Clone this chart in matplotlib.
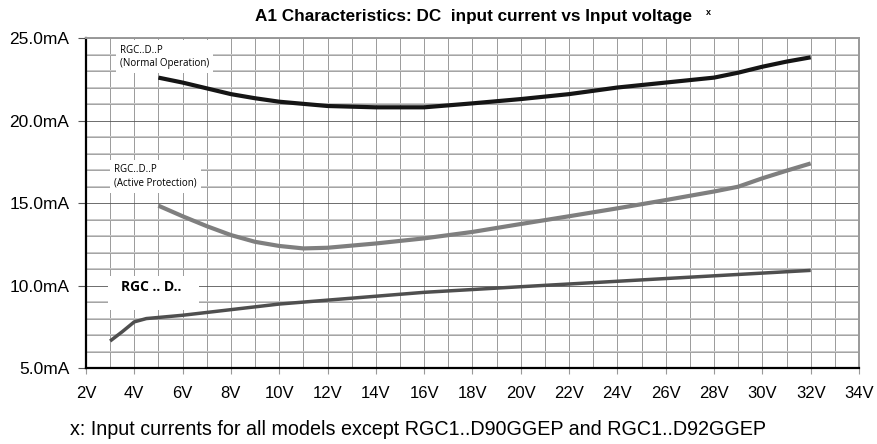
import matplotlib
matplotlib.use('Agg')
import matplotlib.pyplot as plt
from matplotlib.patches import Rectangle

# Werte
v_normal = [5, 6, 7, 8, 9, 10, 12, 14, 16, 18, 20, 22, 24, 26, 28, 29, 30, 31, 32]
i_normal = [22.6, 22.3, 21.95, 21.6, 21.35, 21.14, 20.88, 20.8, 20.8, 21.04, 21.3, 21.6, 22.0, 22.3, 22.6, 22.9, 23.26, 23.57, 23.83]

v_active = [5, 6, 7, 8, 9, 10, 11, 12, 14, 16, 18, 20, 22, 24, 26, 28, 29, 30, 31, 32]
i_active = [14.84, 14.2, 13.6, 13.06, 12.65, 12.4, 12.25, 12.29, 12.55, 12.86, 13.25, 13.73, 14.2, 14.68, 15.18, 15.7, 15.99, 16.5, 16.96, 17.4]

v_std = [3, 3.5, 4, 4.5, 6, 10, 16, 20, 32]
i_std = [6.64, 7.2, 7.8, 8.0, 8.2, 8.88, 9.59, 9.93, 10.92]

x_ticks = list(range(2, 35, 2))
x_labels = ['%dV' % v for v in x_ticks]
y_ticks = [5, 10, 15, 20, 25]
y_labels = ['%.1fmA' % v for v in y_ticks]

plt.rcParams['font.family'] = ['Liberation Sans', 'DejaVu Sans']

fig = plt.figure(figsize=(8.77, 4.44), dpi=100)
ax = fig.add_axes([0.098, 0.171, 0.8815, 0.7434])

# Gitter
for v in range(2, 35):
    ax.axvline(v, color='#8a8a8a', lw=0.6, zorder=0)
for i in range(5, 26):
    if i % 5 == 0:
        ax.axhline(i, color='#555555', lw=0.6, zorder=0)
    else:
        ax.axhline(i, color='#c8c8c8', lw=1.4, zorder=0)
        ax.axhline(i, color='#8a8a8a', lw=0.4, zorder=0)

ax.plot(v_normal, i_normal, color='#151515', lw=3.0, solid_capstyle='butt', zorder=3)
ax.plot(v_active, i_active, color='#7f7f7f', lw=3.0, solid_capstyle='butt', zorder=3)
ax.plot(v_std, i_std, color='#4f4f4f', lw=2.5, solid_capstyle='butt', zorder=3)

ax.set_xlim(2, 34)
ax.set_ylim(5, 25)
ax.set_xticks(x_ticks)
ax.set_xticklabels(x_labels, fontsize=12)
ax.set_yticks(y_ticks)
ax.set_yticklabels(y_labels, fontsize=12.5)
ax.tick_params(axis='x', length=4, color='#999999', pad=9)
ax.tick_params(axis='y', length=6, color='#555555', pad=6)

for s in ['left', 'bottom']:
    ax.spines[s].set_color('black')
    ax.spines[s].set_linewidth(1.6)
for s in ['top', 'right']:
    ax.spines[s].set_color('#999999')
    ax.spines[s].set_linewidth(1.4)

# Beschriftungen
box = dict(facecolor='white', edgecolor='none', pad=3)
ax.text(3.4, 24.6, 'RGC..D..P\n(Normal Operation)', fontsize=7, family='Open Sans',
        va='top', ha='left', bbox=box, zorder=4, linespacing=1.3)
ax.text(3.15, 17.35, 'RGC..D..P\n(Active Protection)', fontsize=7, family='Open Sans',
        va='top', ha='left', bbox=box, zorder=4, linespacing=1.3)
ax.add_patch(Rectangle((2.9, 8.5), 3.8, 2.05, facecolor='white', edgecolor='none', zorder=4))
ax.text(3.45, 9.91, 'RGC .. D..', fontsize=10, family='Open Sans', weight='bold',
        va='center', ha='left', zorder=5)

fig.text(0.54, 0.962, 'A1 Characteristics: DC  input current vs Input voltage', fontsize=12.3,
         weight='bold', ha='center', va='center')
fig.text(0.805, 0.972, 'x', fontsize=6.5, weight='bold', ha='left', va='center')
fig.text(0.08, 0.032, 'x: Input currents for all models except RGC1..D90GGEP and RGC1..D92GGEP',
         fontsize=14.2, ha='left', va='center')

fig.savefig('out.png', dpi=100)
